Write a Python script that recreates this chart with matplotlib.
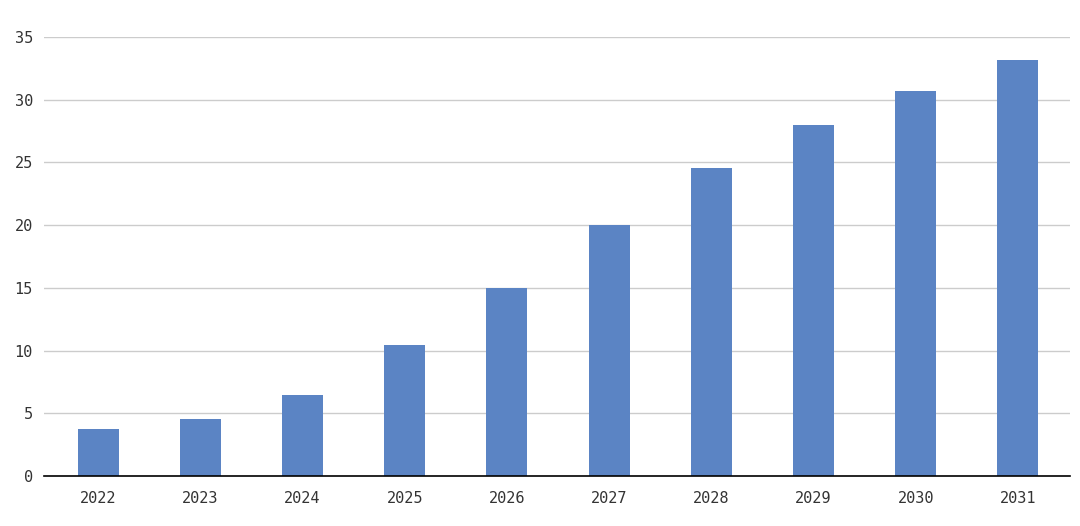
import numpy as np
from matplotlib import pyplot as plt

# Bar chart values
years = ["2022", "2023", "2024", "2025", "2026", "2027", "2028", "2029", "2030", "2031"]
values = [3.75, 4.55, 6.45, 10.45, 15.0, 20.0, 24.55, 27.95, 30.7, 33.2]
y_ticks = [0, 5, 10, 15, 20, 25, 30, 35]

plt.rcParams['font.family'] = ['DejaVu Sans Mono']

fig = plt.figure(figsize=(10.8, 5.26), dpi=100)
ax = fig.add_axes([0.0407, 0.0951, 0.95, 0.8346])

x = np.arange(len(years))
ax.bar(x, values, width=0.4, color="#5b84c4", zorder=3)

ax.set_xlim(-0.53, len(years) - 0.49)
ax.set_ylim(0, 35)
ax.set_yticks(y_ticks)
ax.set_xticks(x)
ax.set_xticklabels(years)
ax.grid(axis="y", color="#cccccc", linewidth=1, zorder=0)

for s in ["top", "right", "left"]:
    ax.spines[s].set_visible(False)
ax.spines["bottom"].set_color("black")
ax.spines["bottom"].set_linewidth(1.2)
ax.spines["bottom"].set_zorder(4)

ax.tick_params(axis="both", length=0, labelsize=11, labelcolor="#333333")
ax.tick_params(axis="y", pad=8)
ax.tick_params(axis="x", pad=11)

plt.savefig("out.png", dpi=100)
